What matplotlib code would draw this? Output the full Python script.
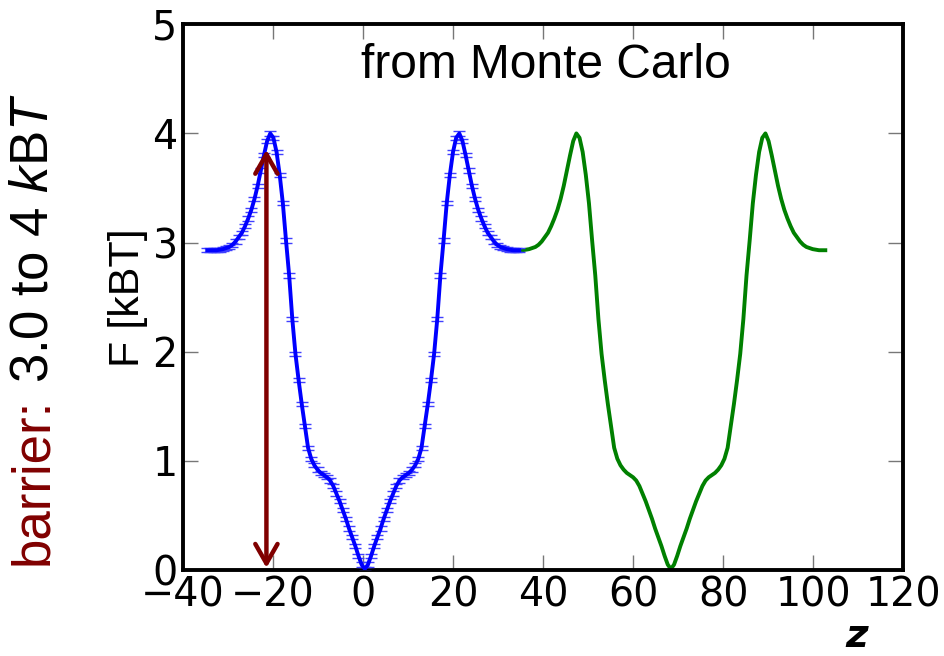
"""
Free energy profile F(z) from Monte Carlo, with periodic image
"""
import matplotlib
matplotlib.use('Agg')
import matplotlib.pyplot as plt
import numpy as np

plt.rcParams['mathtext.fontset'] = 'custom'
plt.rcParams['mathtext.rm'] = 'Liberation Sans'
plt.rcParams['mathtext.it'] = 'Liberation Sans:italic'
plt.rcParams['mathtext.bf'] = 'Liberation Sans:bold'

# ── data ─────────────────────────────────────────────────────────────────── #
# z grid (bin centres, 0.7 spacing) and F [kBT]
z = np.arange(100) * 0.7 - 34.65
F = [2.93, 2.93, 2.93, 2.93, 2.935, 2.94, 2.95, 2.96, 2.98, 3.01,
     3.05, 3.09, 3.15, 3.22, 3.30, 3.40, 3.52, 3.66, 3.80, 3.93,
     4.00, 3.96, 3.83, 3.62, 3.36, 3.02, 2.70, 2.30, 1.98, 1.74,
     1.52, 1.32, 1.12, 1.02, 0.96, 0.92, 0.89, 0.87, 0.85, 0.82,
     0.77, 0.70, 0.63, 0.55, 0.47, 0.38, 0.30, 0.22, 0.13, 0.05,
     0.01, 0.05, 0.13, 0.22, 0.30, 0.38, 0.47, 0.55, 0.63, 0.70,
     0.77, 0.82, 0.85, 0.87, 0.89, 0.92, 0.96, 1.02, 1.12, 1.32,
     1.52, 1.74, 1.98, 2.30, 2.70, 3.02, 3.36, 3.62, 3.83, 3.96,
     4.00, 3.93, 3.80, 3.66, 3.52, 3.40, 3.30, 3.22, 3.15, 3.09,
     3.05, 3.01, 2.98, 2.96, 2.95, 2.94, 2.935, 2.93, 2.93, 2.93]
F_err = 0.02
period = 68.0          # periodic image of the same profile (green)

barrier_z = -21.5
barrier_lo, barrier_hi = 0.02, 3.85

xticks = [-40, -20, 0, 20, 40, 60, 80, 100, 120]
yticks = [0, 1, 2, 3, 4, 5]

# ── figure ───────────────────────────────────────────────────────────────── #
fig = plt.figure(figsize=(9.44, 6.56), dpi=100)
ax = fig.add_axes([0.194, 0.131, 0.763, 0.832])

ax.errorbar(z, F, yerr=F_err, color='blue', lw=2.8, elinewidth=1.0,
            capsize=4.5, capthick=1.0, ecolor='#4040ff', zorder=3)
ax.plot(z + period, F, color='green', lw=2.8, zorder=2)

ax.annotate('', xy=(barrier_z, barrier_lo), xytext=(barrier_z, barrier_hi),
            arrowprops=dict(arrowstyle='<->,head_length=1.4,head_width=0.8',
                            color='#800000', lw=3.2, shrinkA=0, shrinkB=0),
            zorder=4)

ax.text(40.5, 4.62, 'from Monte Carlo', ha='center', va='center',
        fontsize=34.5, family='Liberation Sans')

ax.set_xlim(-40, 120)
ax.set_ylim(0, 5)
ax.set_xticks(xticks)
ax.set_yticks(yticks)
ax.tick_params(direction='in', length=11, width=1, color='#777777',
               labelsize=28.5, top=True, right=True, pad=4)
for sp in ax.spines.values():
    sp.set_linewidth(2.8)

ax.set_ylabel('F [kBT]', fontsize=31, family='Liberation Sans', labelpad=3)

# rotated side note: "barrier:" in dark red, the rest in black
fig.text(0.035, 1 - 565 / 656, 'barrier:', rotation=90, ha='center',
         va='bottom', fontsize=38, color='#800000', family='Liberation Sans')
fig.text(0.035, 1 - 383 / 656, '3.0 to 4 $k$B$T$', rotation=90, ha='center',
         va='bottom', fontsize=38, color='black', family='Liberation Sans')

fig.text(857 / 944, 1 - 647 / 656, 'z', ha='center', va='baseline',
         fontsize=28, fontweight='bold', fontstyle='italic',
         family='DejaVu Sans')

fig.savefig('out.png', dpi=100)
